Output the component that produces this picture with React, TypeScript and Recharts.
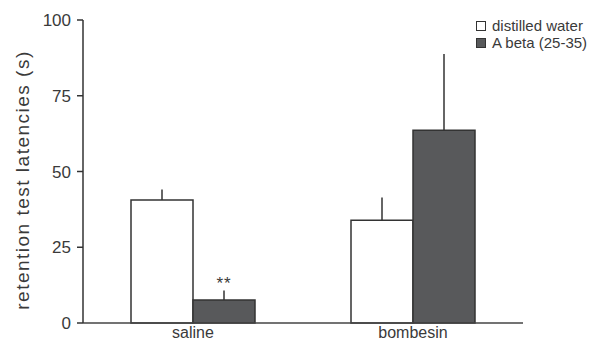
import React from "react";
import { BarChart, Bar, XAxis, YAxis, ErrorBar, LabelList, Legend, Label } from "recharts";

const categories = ["saline", "bombesin"];
const distilledWater = [40.6, 33.9];
const distilledWaterErr = [3.5, 7.5];
const aBeta = [7.6, 63.6];
const aBetaErr = [3.1, 25.2];
const significance = ["**", ""];
const yTicks = [0, 25, 50, 75, 100];

const series = [
  { name: "distilled water", fill: "#ffffff" },
  { name: "A beta (25-35)", fill: "#58595b" },
];

const data = categories.map((c, i) => ({
  name: c,
  water: distilledWater[i],
  waterErr: [0, distilledWaterErr[i]],
  abeta: aBeta[i],
  abetaErr: [0, aBetaErr[i]],
  sig: significance[i],
}));

const FONT = "'Liberation Sans', Arial, Helvetica, sans-serif";
const INK = "#3a3a3a";

const LegendBox = () => (
  <div style={{ fontFamily: FONT, fontSize: 15, color: INK, lineHeight: "16.5px" }}>
    {series.map((s) => (
      <div key={s.name} style={{ display: "flex", alignItems: "center", whiteSpace: "nowrap" }}>
        <span
          style={{
            display: "inline-block",
            width: 8,
            height: 8,
            border: "1.5px solid #333",
            background: s.fill,
            marginRight: 6,
          }}
        />
        {s.name}
      </div>
    ))}
  </div>
);

const YLabel = ({ viewBox }: any) => {
  const x = viewBox.x + 22;
  const y = 180;
  return (
    <text
      x={x}
      y={y}
      transform={`rotate(-90 ${x} ${y})`}
      textAnchor="middle"
      dominantBaseline="central"
      fontFamily={FONT}
      fontSize={19}
      letterSpacing={1.5}
      fill={INK}
    >
      retention test latencies (s)
    </text>
  );
};

export default function App() {
  return (
    <div style={{ position: "absolute", left: 0, top: 0, background: "#fff" }}>
      <BarChart
        width={594}
        height={346}
        data={data}
        margin={{ top: 20, right: 71, bottom: 0, left: 0 }}
        barGap={0}
        barCategoryGap={0}
      >
        <XAxis
          dataKey="name"
          tickLine={false}
          tickSize={0}
          axisLine={{ stroke: "#444", strokeWidth: 1.5 }}
          tickMargin={4}
          height={23}
          tick={{ fill: INK, fontSize: 16, fontFamily: FONT }}
        />
        <YAxis
          width={83}
          domain={[0, 100]}
          ticks={yTicks}
          interval={0}
          tickSize={6}
          tickMargin={6}
          axisLine={{ stroke: "#333", strokeWidth: 1.5 }}
          tickLine={{ stroke: "#333", strokeWidth: 1.5 }}
          tick={{ fill: INK, fontSize: 17, fontFamily: FONT }}
        >
          <Label content={<YLabel />} />
        </YAxis>
        <Legend
          content={<LegendBox />}
          layout="vertical"
          align="center"
          verticalAlign="middle"
          wrapperStyle={{ left: 476, top: 18, width: 118, height: 36 }}
        />
        <Bar
          dataKey="water"
          name={series[0].name}
          fill={series[0].fill}
          stroke="#333"
          strokeWidth={1.5}
          barSize={62}
          isAnimationActive={false}
        >
          <ErrorBar dataKey="waterErr" direction="y" width={0} stroke="#333" strokeWidth={1.5} />
        </Bar>
        <Bar
          dataKey="abeta"
          name={series[1].name}
          fill={series[1].fill}
          stroke="#333"
          strokeWidth={1.5}
          barSize={62}
          isAnimationActive={false}
        >
          <ErrorBar dataKey="abetaErr" direction="y" width={0} stroke="#333" strokeWidth={1.5} />
          <LabelList dataKey="sig" position="top" offset={11} fill={INK} fontSize={17} fontFamily={FONT} letterSpacing={1} />
        </Bar>
      </BarChart>
    </div>
  );
}
